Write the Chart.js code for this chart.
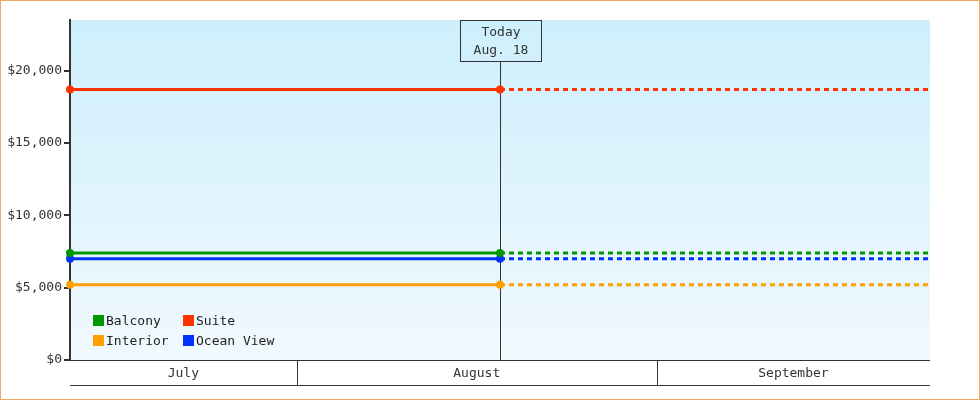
<!DOCTYPE html>
<html>
<head>
<meta charset="utf-8">
<script src="https://cdn.jsdelivr.net/npm/chart.js@4/dist/chart.umd.min.js"></script>
<style>
  body { margin: 0; background: #fff; }
  #wrap { position: relative; width: 980px; height: 400px; }
  #frame { position: absolute; left: 0; top: 0; width: 980px; height: 400px; box-sizing: border-box; border: 1px solid #eeaa66; pointer-events: none; }
  #legend { position: absolute; left: 93px; top: 312px; font: 13px "DejaVu Sans Mono", monospace; color: #222; display: grid; grid-template-columns: 90px 110px; row-gap: 3px; }
  #legend span { display: flex; align-items: center; height: 17px; }
  #legend i { display: inline-block; width: 11px; height: 11px; margin-right: 2px; }
</style>
</head>
<body>
<div id="wrap">
  <canvas id="rates" width="980" height="400"></canvas>
  <div id="legend"></div>
  <div id="frame"></div>
</div>
<script>
// days counted from July 1 (July 1 = 0)
const categories = ['Balcony', 'Suite', 'Interior', 'Ocean View'];
const colors = ['#009900', '#ff3300', '#ffa000', '#0033ff'];
const prices = [7400, 18700, 5200, 7000];
const months = ['July', 'August', 'September'];
const monthStarts = [0, 31, 62, 92];
const xStart = 11.5, today = 48.5, xEnd = 85.5;
const todayLabel = ['Today', 'Aug. 18'];
const yTicks = [0, 5000, 10000, 15000, 20000];

const FONT = '13px "DejaVu Sans Mono", monospace';
const INK = '#333';

const backdrop = {
    id: 'backdrop',
    beforeDatasetsDraw(chart) {
        const { ctx, chartArea: a } = chart;
        const g = ctx.createLinearGradient(0, a.top, 0, a.bottom);
        g.addColorStop(0, '#cdeffc');
        g.addColorStop(1, '#f1f9fe');
        ctx.save();
        ctx.fillStyle = g;
        ctx.fillRect(a.left + 1, a.top, a.right - a.left - 1, a.bottom - a.top);
        // today marker
        const x = Math.round(chart.scales.x.getPixelForValue(today)) + 0.5;
        ctx.strokeStyle = INK;
        ctx.lineWidth = 1;
        ctx.beginPath();
        ctx.moveTo(x, a.top + 41);
        ctx.lineTo(x, a.bottom);
        ctx.stroke();
        ctx.restore();
    },
    afterDraw(chart) {
        const { ctx, chartArea: a } = chart;
        const xs = chart.scales.x;
        ctx.save();
        ctx.strokeStyle = INK;
        ctx.lineWidth = 1;
        ctx.font = FONT;
        ctx.fillStyle = INK;
        ctx.textAlign = 'center';
        ctx.textBaseline = 'middle';

        // today box
        const x = Math.round(xs.getPixelForValue(today)) + 0.5;
        ctx.strokeRect(x - 40, a.top + 0.5, 81, 41);
        ctx.fillText(todayLabel[0], x + 0.5, a.top + 13);
        ctx.fillText(todayLabel[1], x + 0.5, a.top + 31);

        // month boxes
        const y0 = a.bottom + 0.5, y1 = a.bottom + 25.5;
        ctx.beginPath();
        ctx.moveTo(a.left, y0); ctx.lineTo(a.right, y0);
        ctx.moveTo(a.left, y1); ctx.lineTo(a.right, y1);
        for (let i = 1; i < months.length; i++) {
            const p = Math.round(xs.getPixelForValue(monthStarts[i])) + 0.5;
            ctx.moveTo(p, y0); ctx.lineTo(p, y1);
        }
        ctx.stroke();
        months.forEach((m, i) => {
            const l = xs.getPixelForValue(Math.max(monthStarts[i], xStart));
            const r = xs.getPixelForValue(Math.min(monthStarts[i + 1], xEnd));
            ctx.fillText(m, (l + r) / 2, a.bottom + 14);
        });
        ctx.restore();
    }
};

const datasets = categories.map((name, i) => ({
    label: name,
    data: [{ x: xStart, y: prices[i] }, { x: today, y: prices[i] }, { x: xEnd, y: prices[i] }],
    borderColor: colors[i],
    backgroundColor: colors[i],
    borderWidth: 3,
    pointRadius: [4, 4, 0],
    pointBorderWidth: 0,
    clip: false,
    segment: { borderDash: c => c.p0.parsed.x >= today ? [5, 4] : undefined }
}));

new Chart(document.getElementById('rates'), {
    type: 'line',
    data: { datasets },
    plugins: [backdrop],
    options: {
        responsive: false,
        devicePixelRatio: 1,
        animation: false,
        layout: { padding: { top: 20, right: 50, left: 0, bottom: 0 } },
        plugins: { legend: { display: false }, tooltip: { enabled: false } },
        scales: {
            x: {
                type: 'linear', min: xStart, max: xEnd,
                ticks: { display: false },
                grid: { display: false },
                border: { display: false },
                afterFit: s => { s.height = 40; }
            },
            y: {
                min: 0, max: 23500,
                afterBuildTicks: s => { s.ticks = yTicks.map(v => ({ value: v })); },
                ticks: {
                    font: { family: '"DejaVu Sans Mono", monospace', size: 13 },
                    color: INK, padding: 2,
                    callback: v => '$' + v.toLocaleString('en-US')
                },
                grid: { drawOnChartArea: false, tickLength: 6, color: INK, lineWidth: 2 },
                border: { color: INK, width: 2 },
                afterFit: s => { s.width = 70; }
            }
        }
    }
});

const lg = document.getElementById('legend');
[0, 1, 2, 3].forEach(i => {
    const s = document.createElement('span');
    s.innerHTML = '<i style="background:' + colors[i] + '"></i>' + categories[i];
    lg.appendChild(s);
});
</script>
</body>
</html>
